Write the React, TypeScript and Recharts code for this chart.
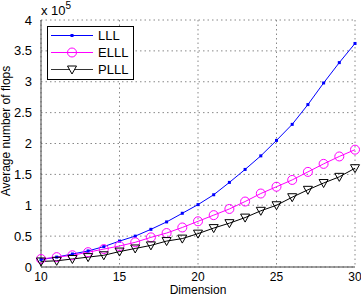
import React from "react"
import { CartesianGrid, Legend, Line, LineChart, XAxis, YAxis } from "recharts"

// values in units of 10^5 flops
const dims = [10, 11, 12, 13, 14, 15, 16, 17, 18, 19, 20, 21, 22, 23, 24, 25, 26, 27, 28, 29, 30]
const lll = [0.12, 0.16, 0.21, 0.26, 0.33, 0.42, 0.5, 0.61, 0.73, 0.87, 1.01, 1.17, 1.37, 1.58, 1.8, 2.05, 2.31, 2.63, 2.98, 3.31, 3.62]
const elll = [0.13, 0.16, 0.19, 0.24, 0.29, 0.34, 0.4, 0.48, 0.55, 0.64, 0.74, 0.84, 0.94, 1.06, 1.19, 1.3, 1.41, 1.54, 1.67, 1.79, 1.9]
const plll = [0.09, 0.1, 0.13, 0.16, 0.19, 0.25, 0.3, 0.35, 0.42, 0.46, 0.54, 0.63, 0.71, 0.8, 0.91, 1.0, 1.13, 1.25, 1.36, 1.46, 1.6]
const xTicks = [10, 15, 20, 25, 30]
const yTicks = [0, 0.5, 1, 1.5, 2, 2.5, 3, 3.5, 4]

const data = dims.map((d, i) => ({ dim: d, lll: lll[i], elll: elll[i], plll: plll[i] }))

const FONT = "'Liberation Sans', Arial, sans-serif"
const BLUE = "#0000ff"
const MAGENTA = "#ff00ff"
const BLACK = "#000000"

const SquareDot = (p: any) => (
  <rect key={p.index} x={p.cx - 1.5} y={p.cy - 1.5} width={3} height={3} fill={BLUE} />
)
const CircleDot = (p: any) => (
  <circle key={p.index} cx={p.cx} cy={p.cy} r={4.5} fill="none" stroke={MAGENTA} strokeWidth={1} />
)
const TriDot = (p: any) => (
  <path
    key={p.index}
    d={`M${p.cx - 4.5},${p.cy - 3.5} L${p.cx + 4.5},${p.cy - 3.5} L${p.cx},${p.cy + 4.5} Z`}
    fill="none"
    stroke={BLACK}
    strokeWidth={1}
  />
)

const legendRows = [
  { name: "LLL", color: BLUE, marker: "square" },
  { name: "ELLL", color: MAGENTA, marker: "circle" },
  { name: "PLLL", color: "#333", marker: "tri" },
]

function LegendBox() {
  return (
    <svg width={87} height={54} style={{ display: "block" }}>
      <rect x={0.5} y={0.5} width={86} height={53} fill="#fff" stroke="#000" />
      {legendRows.map((r, i) => {
        const y = 9.5 + i * 17
        const mx = 25
        return (
          <g key={r.name}>
            <line x1={4} x2={46} y1={y} y2={y} stroke={r.color} strokeWidth={1} />
            {r.marker === "square" && <rect x={mx - 1.5} y={y - 1.5} width={3} height={3} fill={BLUE} />}
            {r.marker === "circle" && <circle cx={mx} cy={y} r={4.5} fill="none" stroke={MAGENTA} />}
            {r.marker === "tri" && (
              <path d={`M${mx - 4.5},${y - 3.5} L${mx + 4.5},${y - 3.5} L${mx},${y + 4.5} Z`} fill="#fff" stroke="#000" />
            )}
            <text x={51} y={y + 4.5} fontSize={13} fontFamily={FONT} fill="#000">
              {r.name}
            </text>
          </g>
        )
      })}
    </svg>
  )
}

export default function App() {
  return (
    <div style={{ position: "absolute", left: 0, top: 0, background: "#fff" }}>
      <LineChart width={361} height={297} data={data} margin={{ top: 20, right: 6, bottom: 0, left: 0 }}>
        <CartesianGrid stroke="#888" strokeDasharray="1.5 3" vertical horizontal />
        <XAxis
          dataKey="dim"
          type="number"
          domain={[10, 30]}
          ticks={xTicks}
          height={30}
          tickLine={false}
          tickSize={0}
          axisLine={{ stroke: "#444" }}
          tick={{ fontSize: 12, fontFamily: FONT, fill: "#000" }}
          tickMargin={5}
          label={{
            content: () => (
              <text x={198} y={294.4} fontSize={12} fontFamily={FONT} fill="#000" textAnchor="middle">
                Dimension
              </text>
            ),
          }}
        />
        <YAxis
          type="number"
          domain={[0, 4]}
          ticks={yTicks}
          width={41}
          tickLine={false}
          axisLine={{ stroke: "#444" }}
          tick={{ fontSize: 13, fontFamily: FONT, fill: "#000" }}
          tickMargin={3}
          label={{
            content: () => (
              <g fontFamily={FONT} fill="#000">
                <text x={10} y={131} fontSize={12} textAnchor="middle" transform="rotate(-90 10 131)">
                  Average number of flops
                </text>
                <text x={41} y={15} fontSize={13}>
                  x 10<tspan dy={-6} fontSize={10}>5</tspan>
                </text>
              </g>
            ),
          }}
        />
        <Legend
          layout="horizontal"
          verticalAlign="middle"
          align="center"
          wrapperStyle={{ left: 47, top: 26, width: 87, height: 54 }}
          content={() => <LegendBox />}
        />
        <Line dataKey="lll" name="LLL" stroke={BLUE} strokeWidth={1} dot={SquareDot} isAnimationActive={false} />
        <Line dataKey="elll" name="ELLL" stroke={MAGENTA} strokeWidth={1} dot={CircleDot} isAnimationActive={false} />
        <Line dataKey="plll" name="PLLL" stroke={BLACK} strokeWidth={1} dot={TriDot} isAnimationActive={false} />
      </LineChart>
    </div>
  )
}
